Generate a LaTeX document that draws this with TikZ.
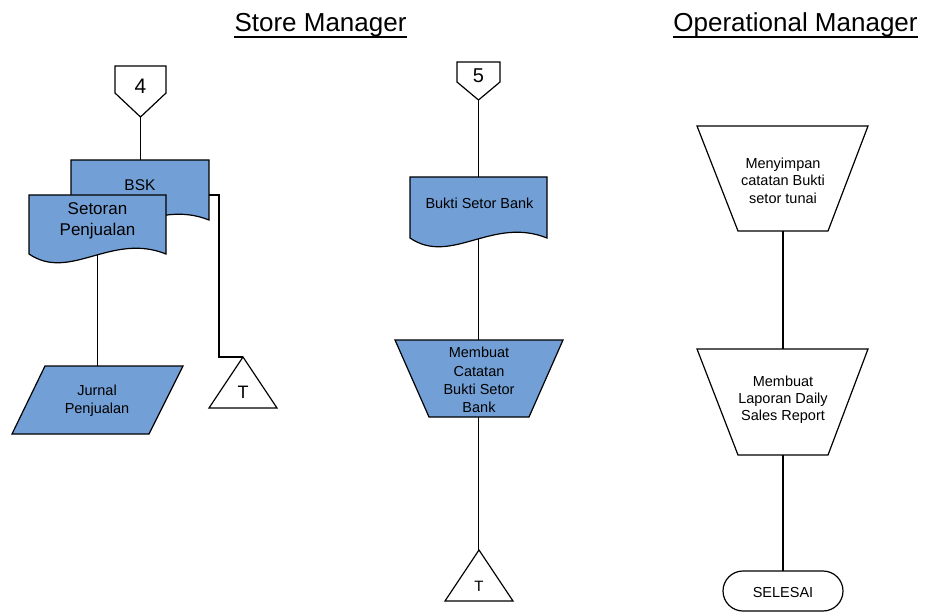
\documentclass[tikz,border=0pt]{standalone}
\usepackage{fontspec}
\setmainfont{Liberation Sans}
\definecolor{flowblue}{RGB}{114,159,214}
\begin{document}
\begin{tikzpicture}[x=1pt,y=-1pt,
  flow/.style={line width=1.2pt, draw=black, line join=miter},
  bluebox/.style={flow, fill=flowblue},
  whitebox/.style={flow, fill=white},
  link/.style={line width=1.2pt, draw=black},
  lbl/.style={align=center, inner sep=0pt, font=\fontsize{14.5}{18}\selectfont},
  title/.style={anchor=base, inner sep=0pt, font=\fontsize{26}{30}\selectfont}]
\useasboundingbox (0,0) rectangle (925,612);

% ---------- column titles ----------
\node[title] (tStore) at (320.5,32) {Store Manager};
\draw[line width=1.6pt] ([yshift=-5pt]tStore.base west) -- ([yshift=-5pt]tStore.base east);
\node[title] (tOps) at (795.5,32) {Operational Manager};
\draw[line width=1.6pt] ([yshift=-5pt]tOps.base west) -- ([yshift=-5pt]tOps.base east);

% ---------- Store Manager, left branch ----------
% off-page connector 4
\draw[whitebox] (115,66) -- (166,66) -- (166,93) -- (140.5,117) -- (115,93) -- cycle;
\node[lbl, font=\fontsize{21}{24}\selectfont] (n4) at (140.5,86) {4};
\coordinate (n4tip) at (140.5,117);

% document BSK (behind)
\draw[bluebox] (71,160) -- (209,160) -- (209,220)
  .. controls (153.8,198) and (112.4,248) .. (71,220) -- cycle;
\node[lbl, font=\fontsize{15.5}{18}\selectfont] (bsk) at (140,185) {BSK};
\coordinate (bskTop) at (140.5,160);
\coordinate (bskRight) at (209,195);

% document Setoran Penjualan (front)
\draw[bluebox] (29,195) -- (166,195) -- (166,254)
  .. controls (111.2,232) and (70.1,282) .. (29,254) -- cycle;
\node[lbl, font=\fontsize{17}{20.5}\selectfont] (setoran) at (97.5,221) {Setoran\\Penjualan};
\coordinate (setoranBot) at (97.7,255);

% manual input Jurnal Penjualan
\draw[bluebox] (45,366) -- (183,366) -- (149,434) -- (12,434) -- cycle;
\node[lbl] (jurnal) at (97,401) {Jurnal\\Penjualan};
\coordinate (jurnalTop) at (97.7,366);

% file T
\draw[whitebox] (243,357) -- (277,408) -- (209,408) -- cycle;
\node[lbl, font=\fontsize{18}{20}\selectfont] (fileA) at (243,392) {T};
\coordinate (fileAtop) at (243,357);

\draw[link] (n4tip) -- (bskTop);
\draw[link] (setoranBot) -- (jurnalTop);
\draw[link] (bskRight) -- ++(10,0) |- (fileAtop);

% ---------- Store Manager, middle branch ----------
\draw[whitebox] (457,62) -- (500,62) -- (500,82) -- (478.5,100) -- (457,82) -- cycle;
\node[lbl, font=\fontsize{20}{24}\selectfont] (n5) at (478.5,76) {5};
\coordinate (n5tip) at (478.5,100);

\draw[bluebox] (410,177) -- (547,177) -- (547,238)
  .. controls (492.2,216) and (451.1,266) .. (410,238) -- cycle;
\node[lbl] (bukti) at (479.5,203) {Bukti Setor Bank};
\coordinate (buktiTop) at (478.5,177);
\coordinate (buktiBot) at (478.5,239);

\draw[bluebox] (395,340) -- (563,340) -- (529,417) -- (429,417) -- cycle;
\node[lbl, font=\fontsize{14.5}{18.3}\selectfont] (catat) at (479,380) {Membuat\\Catatan\\Bukti Setor\\Bank};
\coordinate (catatTop) at (478.5,340);
\coordinate (catatBot) at (478.5,417);

\draw[whitebox] (479,550) -- (513,601) -- (445,601) -- cycle;
\node[lbl, font=\fontsize{15}{18}\selectfont] (fileB) at (479,586) {T};
\coordinate (fileBtop) at (478.5,550);

\draw[link] (n5tip) -- (buktiTop);
\draw[link] (buktiBot) -- (catatTop);
\draw[link] (catatBot) -- (fileBtop);

% ---------- Operational Manager ----------
\draw[whitebox] (697,126) -- (868,126) -- (828,231) -- (738,231) -- cycle;
\node[lbl, font=\fontsize{14.5}{17.5}\selectfont] (simpan) at (783,180.5) {Menyimpan\\catatan Bukti\\setor tunai};
\coordinate (simpanBot) at (783,231);

\draw[whitebox] (697,349) -- (868,349) -- (828,455) -- (738,455) -- cycle;
\node[lbl, font=\fontsize{14.5}{17}\selectfont] (laporan) at (783,400) {Membuat\\Laporan Daily\\Sales Report};
\coordinate (laporanTop) at (783,349);
\coordinate (laporanBot) at (783,455);

\draw[whitebox, rounded corners=20pt] (723,571) rectangle (843,611);
\node[lbl] (selesai) at (783,593) {SELESAI};
\coordinate (selesaiTop) at (783,571);

\draw[link] (simpanBot) -- (laporanTop);
\draw[link] (laporanBot) -- (selesaiTop);
\end{tikzpicture}
\end{document}
